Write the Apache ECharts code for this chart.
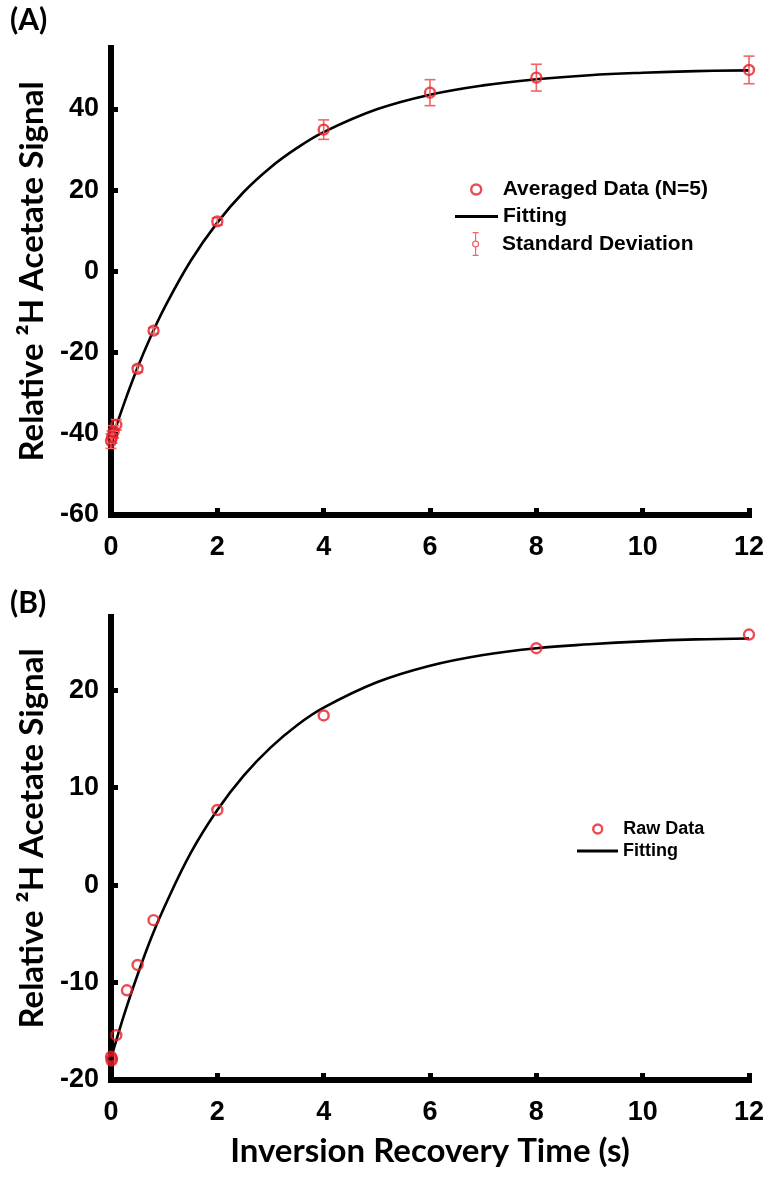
<!DOCTYPE html>
<html>
<head>
<meta charset="utf-8">
<script src="https://cdn.jsdelivr.net/npm/echarts@6/dist/echarts.min.js"></script>
<style>
  html, body { margin: 0; padding: 0; background: #fff; }
  #main { width: 768px; height: 1178px; }
</style>
</head>
<body>
<div id="main"></div>
<script>
// panel A: averaged data with SD
var timeA = [0, 0.02, 0.05, 0.1, 0.5, 0.8, 2, 4, 6, 8, 12];
var meanA = [-41.8, -40.8, -39.5, -37.8, -24.0, -14.6, 12.3, 34.9, 44.0, 47.7, 49.6];
var sdA = [1.8, 1.5, 1.5, 1.3, 0.8, 0.7, 0.9, 2.4, 3.2, 3.3, 3.4];
var fitTimeA = [0, 0.25, 0.5, 0.75, 1, 1.5, 2, 2.5, 3, 3.5, 4, 5, 6, 7, 8, 9, 10, 11, 12];
var fitA = [-42, -32.4, -23.7, -16.0, -9.1, 2.6, 12.0, 19.6, 25.6, 30.4, 34.3, 39.9, 43.5, 45.8, 47.3, 48.3, 48.9, 49.3, 49.5];

// panel B: raw data
var timeB = [0, 0.01, 0.02, 0.1, 0.3, 0.5, 0.8, 2, 4, 8, 12];
var rawB = [-17.6, -18.0, -17.8, -15.4, -10.8, -8.2, -3.6, 7.7, 17.4, 24.3, 25.7];
var fitTimeB = [0, 0.25, 0.5, 0.75, 1, 1.5, 2, 2.5, 3, 3.5, 4, 5, 6, 7, 8, 9, 10, 11, 12];
var fitB = [-17.8, -13.25, -9.2, -5.5, -2.3, 3.3, 7.7, 11.25, 14.1, 16.4, 18.2, 20.8, 22.5, 23.6, 24.3, 24.7, 25.0, 25.2, 25.3];

var yTicksA = [-60, -40, -20, 0, 20, 40];
var yTicksB = [-20, -10, 0, 10, 20];

var red = '#ea1d25';
var errRed = '#f2646a';
var tickFont = 'Liberation Sans, Arial, sans-serif';
var titleFont = 'Lato, sans-serif';

function pairs(xs, ys) {
    var out = [];
    for (var i = 0; i < xs.length; i++) out.push([xs[i], ys[i]]);
    return out;
}

var errData = [];
for (var i = 0; i < timeA.length; i++) {
    errData.push([timeA[i], meanA[i] - sdA[i], meanA[i] + sdA[i]]);
}

function renderErr(params, api) {
    var x = api.value(0);
    var lo = api.coord([x, api.value(1)]);
    var hi = api.coord([x, api.value(2)]);
    var w = 5.5;
    var st = { stroke: errRed, lineWidth: 1.6 };
    return {
        type: 'group',
        children: [
            { type: 'line', shape: { x1: hi[0], y1: hi[1], x2: lo[0], y2: lo[1] }, style: st },
            { type: 'line', shape: { x1: hi[0] - w, y1: hi[1], x2: hi[0] + w, y2: hi[1] }, style: st },
            { type: 'line', shape: { x1: lo[0] - w, y1: lo[1], x2: lo[0] + w, y2: lo[1] }, style: st }
        ]
    };
}

function xAxisOf(idx, named) {
    return {
        type: 'value', gridIndex: idx, min: 0, max: 12, interval: 2,
        name: named ? 'Inversion Recovery Time (s)' : '',
        nameLocation: 'middle', nameGap: 55,
        nameTextStyle: { fontFamily: titleFont, fontWeight: 'bold', fontSize: 33, color: '#000' },
        axisLine: { onZero: false, lineStyle: { color: '#000', width: 6, cap: 'square' } },
        axisTick: { inside: true, length: 7, lineStyle: { width: 5, color: '#000' } },
        axisLabel: { margin: 19, fontFamily: tickFont, fontWeight: 'bold', fontSize: 27, color: '#000' },
        splitLine: { show: false }
    };
}

function yAxisOf(idx, min, max, ticks) {
    return {
        type: 'value', gridIndex: idx, min: min, max: max,
        name: 'Relative ²H Acetate Signal',
        nameLocation: 'middle', nameGap: 62, nameRotate: 90,
        nameTextStyle: { fontFamily: titleFont, fontWeight: 'bold', fontSize: 33, color: '#000', padding: [0, 0, 0, 20] },
        axisLine: { onZero: false, lineStyle: { color: '#000', width: 6, cap: 'square' } },
        axisTick: { inside: true, length: 7, customValues: ticks, lineStyle: { width: 5, color: '#000' } },
        axisLabel: { margin: 12, customValues: ticks, fontFamily: tickFont, fontWeight: 'bold', fontSize: 27, color: '#000' },
        splitLine: { show: false }
    };
}

var errIcon = 'path://M2,0H8V1.3H2Z M2,22.7H8V24H2Z M4.4,1.3H5.6V8.4H4.4Z M4.4,15.6H5.6V22.7H4.4Z ' +
    'M1.4,12A3.6,3.6 0 1,0 8.6,12A3.6,3.6 0 1,0 1.4,12Z M2.7,12A2.3,2.3 0 1,1 7.3,12A2.3,2.3 0 1,1 2.7,12Z';

function legendOf(name, left, top, w, h, icon, style, fs) {
    return {
        data: [{ name: name, icon: icon, itemStyle: style }],
        left: left, top: top, padding: 0,
        itemWidth: w, itemHeight: h, selectedMode: false,
        textStyle: { fontFamily: tickFont, fontWeight: 'bold', fontSize: fs, color: '#000' }
    };
}

var dom = document.getElementById('main');
var myChart = echarts.init(dom);

var option = {
    backgroundColor: '#fff',
    animation: false,
    title: [
        { text: '(A)', left: 10, top: 5, padding: 0, textStyle: { fontFamily: 'Liberation Sans Narrow, Lato, sans-serif', fontWeight: 'bold', fontSize: 30, color: '#000' } },
        { text: '(B)', left: 10, top: 588, padding: 0, textStyle: { fontFamily: 'Liberation Sans Narrow, Lato, sans-serif', fontWeight: 'bold', fontSize: 30, color: '#000' } }
    ],
    grid: [
        { left: 111, right: 19, top: 48, height: 467 },
        { left: 111, right: 19, top: 617, height: 463 }
    ],
    xAxis: [xAxisOf(0, false), xAxisOf(1, true)],
    yAxis: [yAxisOf(0, -60, 55, yTicksA), yAxisOf(1, -20, 27.5, yTicksB)],
    // legend boxes are placed by their drawn extent, so the icon offset is added to left
    legend: [
        legendOf('Averaged Data (N=5)', 470, 179, 43, 10, 'circle', { color: '#fff', borderColor: red, borderWidth: 2.4 }, 21),
        legendOf('Fitting', 455, 206, 43, 3, 'rect', { color: '#000', borderWidth: 0 }, 21),
        legendOf('Standard Deviation', 472, 232, 43, 24, errIcon, { color: errRed, borderWidth: 0 }, 21),
        legendOf('Raw Data', 592, 820, 41, 9, 'circle', { color: '#fff', borderColor: red, borderWidth: 2.4 }, 18),
        legendOf('Fitting', 577, 842, 41, 3, 'rect', { color: '#000', borderWidth: 0 }, 18)
    ],
    series: [
        {
            name: 'Fitting', type: 'line', xAxisIndex: 0, yAxisIndex: 0,
            data: pairs(fitTimeA, fitA), smooth: 0.4, showSymbol: false, color: '#000',
            lineStyle: { color: '#000', width: 2.6 }, z: 2
        },
        {
            name: 'Standard Deviation', type: 'custom', xAxisIndex: 0, yAxisIndex: 0,
            renderItem: renderErr, data: errData, color: errRed, z: 3
        },
        {
            name: 'Averaged Data (N=5)', type: 'scatter', xAxisIndex: 0, yAxisIndex: 0,
            data: pairs(timeA, meanA), symbol: 'circle', symbolSize: 10,
            itemStyle: { color: 'rgba(255,255,255,0)', borderColor: red, borderWidth: 2.4 }, z: 4
        },
        {
            name: 'Fitting', type: 'line', xAxisIndex: 1, yAxisIndex: 1,
            data: pairs(fitTimeB, fitB), smooth: 0.4, showSymbol: false, color: '#000',
            lineStyle: { color: '#000', width: 2.6 }, z: 2
        },
        {
            name: 'Raw Data', type: 'scatter', xAxisIndex: 1, yAxisIndex: 1,
            data: pairs(timeB, rawB), symbol: 'circle', symbolSize: 10,
            itemStyle: { color: 'rgba(255,255,255,0)', borderColor: red, borderWidth: 2.4 }, z: 4
        }
    ]
};
myChart.setOption(option);
</script>
</body>
</html>
